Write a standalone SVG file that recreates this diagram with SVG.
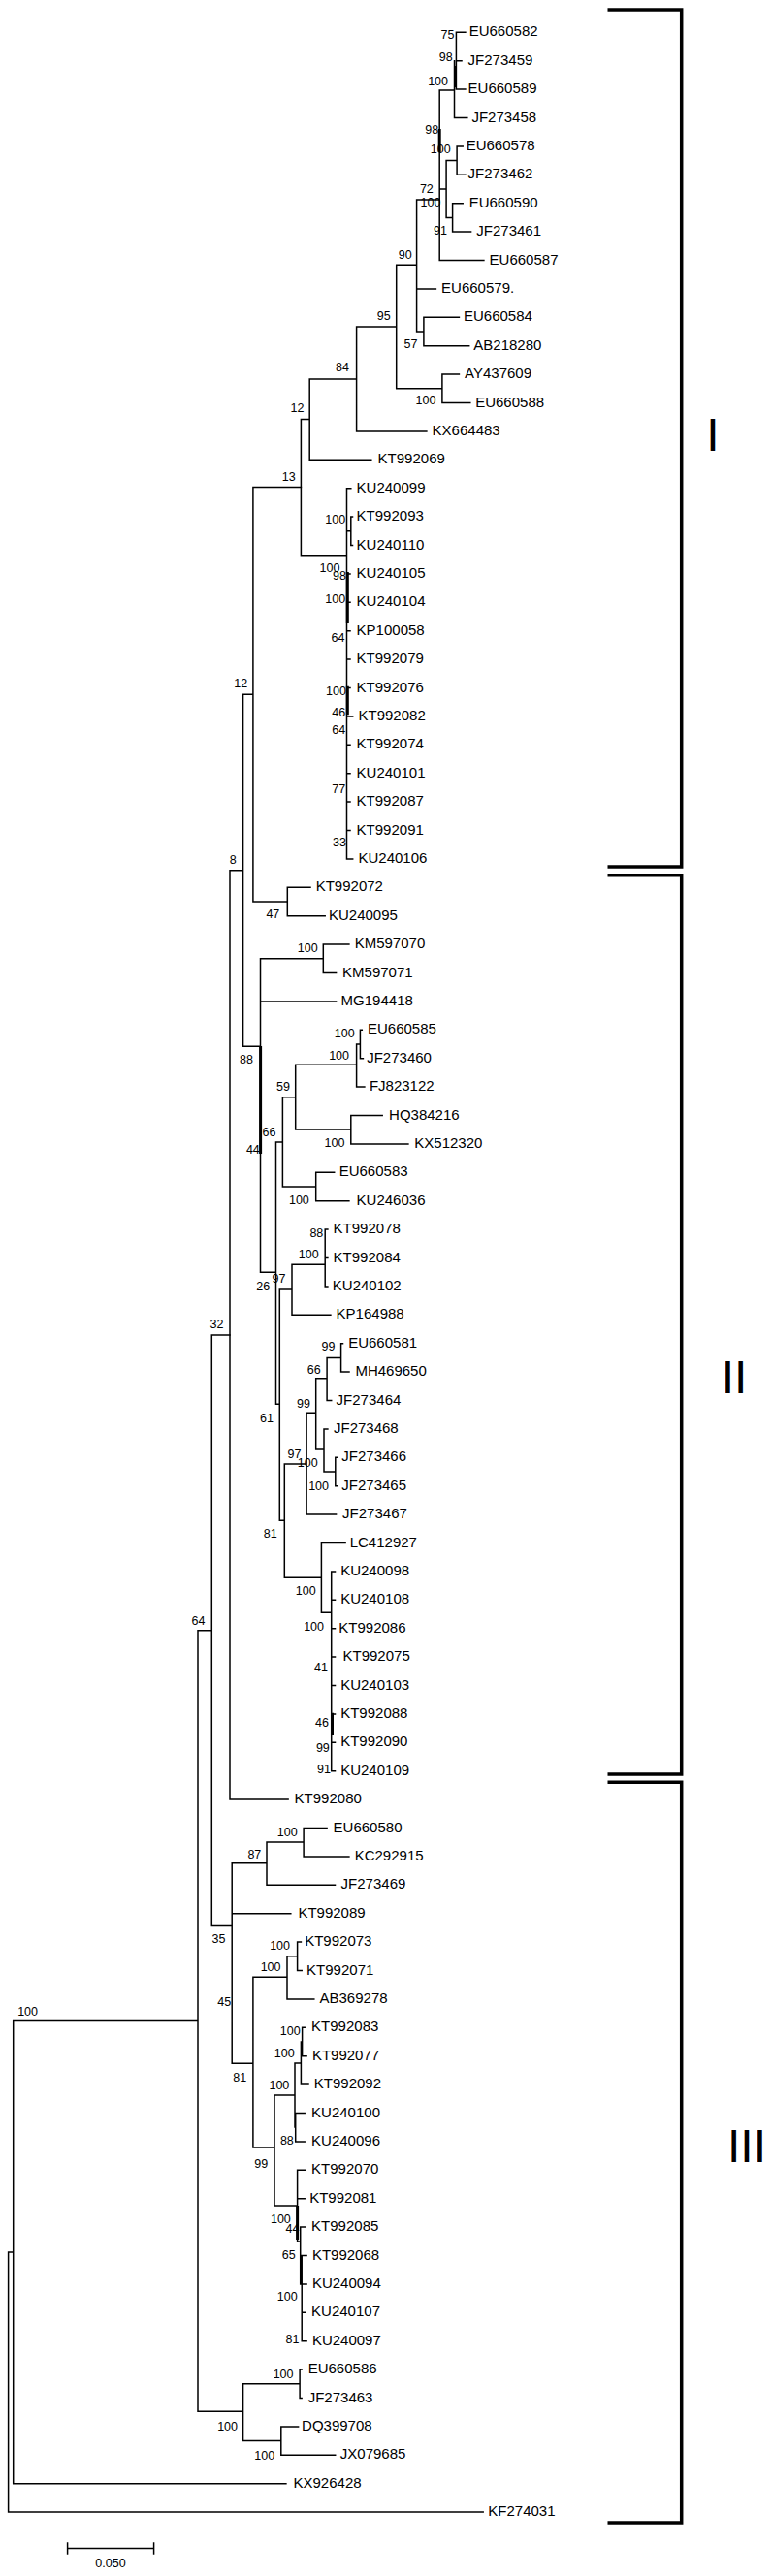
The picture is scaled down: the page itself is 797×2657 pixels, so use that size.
<svg xmlns="http://www.w3.org/2000/svg" width="797" height="2657" viewBox="0 0 797 2657">
<style>
.t{font-family:"Liberation Sans",Arial,sans-serif;font-size:15px;fill:#000}
.b{font-family:"Liberation Sans",Arial,sans-serif;font-size:12.5px;fill:#000;text-anchor:end}
.r{font-family:"Liberation Sans",Arial,sans-serif;font-size:48px;fill:#000;text-anchor:middle}
.l{fill:none;stroke:#000;stroke-width:1.5;stroke-linecap:square}
.k{fill:none;stroke:#000;stroke-width:3}
.br{fill:none;stroke:#000;stroke-width:3.5}
</style>
<rect width="797" height="2657" fill="#fff"/>
<g id="connectors">
<path class="l" d="M470.4,33.3V92.1M470.4,33.3H479.9M470.4,62.7H476M470.4,92.1H479.9M468.5,62.7V121.5M468.5,121.5H481.8M453.2,93H468.5M460.1,165.6V224.4M453.2,195H460.1M471.1,150.9V180.3M460.1,165.6H471.1M471.1,150.9H477.2M471.1,180.3H479.9M466.6,209.7V239.1M460.1,224.4H466.6M466.6,209.7H477.2M466.6,239.1H485.6M453.2,93V268.5M453.2,268.5H498.9M429.6,206H453.2M429.6,206V342M429.6,297.9H449.4M429.6,342H436.9M436.9,327.3V356.7M436.9,327.3H473.4M436.9,356.7H483.7M408.7,273.3H429.6M408.7,273.3V400.8M408.7,400.8H455.9M455.9,386.1V415.5M455.9,386.1H473.4M455.9,415.5H484.8M367.6,337H408.7M367.6,337V444.9M367.6,444.9H439.9M319.2,391H367.6M319.2,391V474.3M319.2,474.3H382.8M310.4,432.6H319.2M310.4,432.6V572.7M310.4,572.7H357.5M357.5,503.7V885.9M357.5,503.7H361.8M357.5,547.8H361.8M361.8,533.1V562.5M361.8,533.1H363.5M361.8,562.5H363.5M357.5,591.9H361M357.5,621.3H361M357.5,650.7H361M357.5,680.1H361M357.5,709.5H361M357.5,738.9H363.7M357.5,768.3H361M357.5,797.7H361M357.5,827.1H361M357.5,856.5H361M357.5,885.9H363.7"/>
<path class="l" d="M260.9,502.6H310.4M260.9,502.6V930M260.9,930H296.3M296.3,915.3V944.7M296.3,915.3H320M296.3,944.7H335.2M250.6,716.3H260.9M250.6,716.3V1079.3M237,897.8H250.6M237,897.8V1856.1M237,1856.1H297.1M250.6,1079.3H268.5M268.5,988.8V1312.3M268.5,988.8H333.3M333.3,974.1V1003.5M333.3,974.1H359.9M333.3,1003.5H346.6M268.5,1032.9H346.6M268.5,1312.3H284.5M284.5,1177.9V1448.3M284.5,1177.9H291.4M291.4,1131.7V1224M291.4,1131.7H304.7M304.7,1098.3V1165M304.7,1098.3H367.6M367.6,1077V1121.1M367.6,1121.1H375.9M367.6,1077H371.4M371.4,1062.3V1091.7M371.4,1062.3H373.3M371.4,1091.7H374.4M304.7,1165H361.8M361.8,1150.5V1179.9M361.8,1150.5H394.2M361.8,1179.9H420.9M291.4,1224H325.7M325.7,1209.3V1238.7M325.7,1209.3H344.7M325.7,1238.7H359.9M284.5,1448.3H288.3M288.3,1330V1568.3M288.3,1330H301M301,1304.3V1356.3M301,1304.3H335.2M335.2,1268.1V1326.9M335.2,1268.1H337.9M335.2,1297.5H337.9M335.2,1326.9H337.9M301,1356.3H340.9M288.3,1568.3H293.3M293.3,1510V1627.3M293.3,1510H316.1M316.1,1457.3V1562.1M316.1,1562.1H346.6M316.1,1457.3H325.7M325.7,1421.7V1495M325.7,1421.7H337.1M337.1,1400.4V1444.5M337.1,1444.5H341.7M337.1,1400.4H351.6M351.6,1385.7V1415.1M351.6,1385.7H353.5M351.6,1415.1H360M325.7,1495H334M334,1473.9V1518M334,1473.9H337.9M334,1518H345.8M345.8,1503.3V1532.7M345.8,1503.3H347.8M345.8,1532.7H347.8M293.3,1627.3H331.4M331.4,1591.5V1663.3M331.4,1591.5H356.1M331.4,1663.3H341.7M341.7,1620.9V1826.7M341.7,1620.9H345.5M341.7,1650.3H345.5M341.7,1679.7H345.5M341.7,1709.1H345.5M341.7,1738.5H345.5M341.7,1767.9H345.5M341.7,1797.3H345.5M341.7,1826.7H345.5"/>
<path class="l" d="M204,1681.7H218.3M218.3,1377H237M218.3,1377V1986.4M218.3,1986.4H239.2M239.2,1921.7V2128.3M239.2,1921.7H275M275,1900V1944.3M275,1944.3H345.5M275,1900H313.1M313.1,1885.5V1914.9M313.1,1885.5H337.1M313.1,1914.9H359.9M239.2,1973.7H299.8M239.2,2128.3H260.9M260.9,2039.3V2215M260.9,2039.3H296M296,2017.8V2061.9M296,2061.9H323.8M296,2017.8H306.6M306.6,2003.1V2032.5M306.6,2003.1H310.4M306.6,2032.5H311.2M260.9,2215H283M283,2161V2275M283,2161H304M304,2128V2194M304,2128H310.4M310.4,2106V2150.1M310.4,2150.1H318M310.4,2106H311.6M311.6,2091.3V2120.7M311.6,2091.3H314.2M311.6,2120.7H316.1M304,2194H304.7M304.7,2179.5V2208.9M304.7,2179.5H314.2M304.7,2208.9H314.2M283,2275H306.6M306.6,2238.3V2312M306.6,2238.3H315M306.6,2267.7H314.2M306.6,2312H309.7M309.7,2297.1V2355.9M309.7,2297.1H315M309.7,2355.9H316.1M311.2,2326.5V2414.7M309.7,2326.5H316.1M311.2,2385.3H315M311.2,2414.7H316.1M204,1681.7V2487.2M204,2487.2H250.6M250.6,2458.8V2517.6M250.6,2458.8H309.1M309.1,2444.1V2473.5M309.1,2444.1H311.1M309.1,2473.5H311.1M250.6,2517.6H289.8M289.8,2502.9V2532.3M289.8,2502.9H307.6M289.8,2532.3H345.7M13.7,2084.5H204M13.7,2084.5V2561.7M13.7,2561.7H294.9M8.6,2323H13.7M8.6,2323V2591.1M8.6,2591.1H498.2"/>
<path class="k" d="M469.5,68V90M453.2,133V157M358.3,590V643M358.3,707.7V737.3M342.5,1766.7V1790M306.6,2275V2310M268.6,1079V1190"/>
</g>
<g id="bootstrap">
<text class="b" x="468.5" y="40">75</text>
<text class="b" x="466.6" y="63.3">98</text>
<text class="b" x="462" y="88.3">100</text>
<text class="b" x="452.1" y="137.7">98</text>
<text class="b" x="464.7" y="157.7">100</text>
<text class="b" x="446.8" y="199.3">72</text>
<text class="b" x="454.4" y="213.3">100</text>
<text class="b" x="460.9" y="241.7">91</text>
<text class="b" x="424.7" y="266.7">90</text>
<text class="b" x="430.4" y="359.3">57</text>
<text class="b" x="402.6" y="330">95</text>
<text class="b" x="449.4" y="417.3">100</text>
<text class="b" x="360" y="383.3">84</text>
<text class="b" x="313.5" y="425">12</text>
<text class="b" x="304.7" y="496">13</text>
<text class="b" x="356.1" y="540">100</text>
<text class="b" x="350.4" y="590">100</text>
<text class="b" x="356.9" y="598.3">98</text>
<text class="b" x="356.1" y="621.7">100</text>
<text class="b" x="355.4" y="661.7">64</text>
<text class="b" x="356.9" y="716.7">100</text>
<text class="b" x="356.1" y="739.3">46</text>
<text class="b" x="356.1" y="756.7">64</text>
<text class="b" x="356.1" y="818.3">77</text>
<text class="b" x="356.9" y="872.7">33</text>
<text class="b" x="255.2" y="709.3">12</text>
<text class="b" x="288.3" y="946.7">47</text>
<text class="b" x="243.8" y="890.7">8</text>
<text class="b" x="327.6" y="981.7">100</text>
<text class="b" x="260.9" y="1097.3">88</text>
<text class="b" x="365.7" y="1070">100</text>
<text class="b" x="360" y="1092.7">100</text>
<text class="b" x="299" y="1125">59</text>
<text class="b" x="355.4" y="1182.7">100</text>
<text class="b" x="284.5" y="1171.7">66</text>
<text class="b" x="267.8" y="1190">44</text>
<text class="b" x="318.8" y="1241.7">100</text>
<text class="b" x="333.3" y="1276">88</text>
<text class="b" x="328.7" y="1298.3">100</text>
<text class="b" x="294.4" y="1322.7">97</text>
<text class="b" x="278.1" y="1330.7">26</text>
<text class="b" x="230.5" y="1370">32</text>
<text class="b" x="345.5" y="1393.3">99</text>
<text class="b" x="330.6" y="1416.7">66</text>
<text class="b" x="320" y="1451.7">99</text>
<text class="b" x="281.9" y="1467.3">61</text>
<text class="b" x="310.4" y="1504.3">97</text>
<text class="b" x="327.6" y="1513.3">100</text>
<text class="b" x="339" y="1536.7">100</text>
<text class="b" x="285.7" y="1586">81</text>
<text class="b" x="325.7" y="1645">100</text>
<text class="b" x="211.4" y="1676">64</text>
<text class="b" x="334" y="1681.7">100</text>
<text class="b" x="337.9" y="1724">41</text>
<text class="b" x="339" y="1780.7">46</text>
<text class="b" x="339.8" y="1807.3">99</text>
<text class="b" x="340.9" y="1829.3">91</text>
<text class="b" x="306.6" y="1894">100</text>
<text class="b" x="269.3" y="1916.7">87</text>
<text class="b" x="232.4" y="2004">35</text>
<text class="b" x="299" y="2010.7">100</text>
<text class="b" x="289.5" y="2033.3">100</text>
<text class="b" x="238.1" y="2069.3">45</text>
<text class="b" x="309.7" y="2099.3">100</text>
<text class="b" x="303.6" y="2121.7">100</text>
<text class="b" x="254.1" y="2147.3">81</text>
<text class="b" x="298.3" y="2155">100</text>
<text class="b" x="302.8" y="2211.7">88</text>
<text class="b" x="276.2" y="2236">99</text>
<text class="b" x="299.8" y="2292.7">100</text>
<text class="b" x="308.5" y="2303.3">44</text>
<text class="b" x="304.7" y="2330">65</text>
<text class="b" x="306.6" y="2373.3">100</text>
<text class="b" x="308.5" y="2417.3">81</text>
<text class="b" x="302.5" y="2452.8">100</text>
<text class="b" x="245" y="2507">100</text>
<text class="b" x="283.2" y="2536.9">100</text>
<text class="b" x="39" y="2079">100</text>
</g>
<g id="leaf-EU660582"><text class="t" x="483.7" y="37.3">EU660582</text></g>
<g id="leaf-JF273459"><text class="t" x="482.6" y="66.7">JF273459</text></g>
<g id="leaf-EU660589"><text class="t" x="482.6" y="96.1">EU660589</text></g>
<g id="leaf-JF273458"><text class="t" x="486.4" y="125.5">JF273458</text></g>
<g id="leaf-EU660578"><text class="t" x="480.7" y="154.9">EU660578</text></g>
<g id="leaf-JF273462"><text class="t" x="482.6" y="184.3">JF273462</text></g>
<g id="leaf-EU660590"><text class="t" x="483.7" y="213.7">EU660590</text></g>
<g id="leaf-JF273461"><text class="t" x="491.3" y="243.1">JF273461</text></g>
<g id="leaf-EU660587"><text class="t" x="504.6" y="272.5">EU660587</text></g>
<g id="leaf-EU660579"><text class="t" x="455.1" y="301.9">EU660579.</text></g>
<g id="leaf-EU660584"><text class="t" x="478" y="331.3">EU660584</text></g>
<g id="leaf-AB218280"><text class="t" x="488.3" y="360.7">AB218280</text></g>
<g id="leaf-AY437609"><text class="t" x="479.1" y="390.1">AY437609</text></g>
<g id="leaf-EU660588"><text class="t" x="490.2" y="419.5">EU660588</text></g>
<g id="leaf-KX664483"><text class="t" x="445.6" y="448.9">KX664483</text></g>
<g id="leaf-KT992069"><text class="t" x="389.6" y="478.3">KT992069</text></g>
<g id="leaf-KU240099"><text class="t" x="367.6" y="507.7">KU240099</text></g>
<g id="leaf-KT992093"><text class="t" x="367.6" y="537.1">KT992093</text></g>
<g id="leaf-KU240110"><text class="t" x="367.6" y="566.5">KU240110</text></g>
<g id="leaf-KU240105"><text class="t" x="367.6" y="595.9">KU240105</text></g>
<g id="leaf-KU240104"><text class="t" x="367.6" y="625.3">KU240104</text></g>
<g id="leaf-KP100058"><text class="t" x="367.6" y="654.7">KP100058</text></g>
<g id="leaf-KT992079"><text class="t" x="367.6" y="684.1">KT992079</text></g>
<g id="leaf-KT992076"><text class="t" x="367.6" y="713.5">KT992076</text></g>
<g id="leaf-KT992082"><text class="t" x="369.5" y="742.9">KT992082</text></g>
<g id="leaf-KT992074"><text class="t" x="367.6" y="772.3">KT992074</text></g>
<g id="leaf-KU240101"><text class="t" x="367.6" y="801.7">KU240101</text></g>
<g id="leaf-KT992087"><text class="t" x="367.6" y="831.1">KT992087</text></g>
<g id="leaf-KT992091"><text class="t" x="367.6" y="860.5">KT992091</text></g>
<g id="leaf-KU240106"><text class="t" x="369.5" y="889.9">KU240106</text></g>
<g id="leaf-KT992072"><text class="t" x="325.7" y="919.3">KT992072</text></g>
<g id="leaf-KU240095"><text class="t" x="339" y="948.7">KU240095</text></g>
<g id="leaf-KM597070"><text class="t" x="365.7" y="978.1">KM597070</text></g>
<g id="leaf-KM597071"><text class="t" x="353.1" y="1007.5">KM597071</text></g>
<g id="leaf-MG194418"><text class="t" x="351.6" y="1036.9">MG194418</text></g>
<g id="leaf-EU660585"><text class="t" x="379" y="1066.3">EU660585</text></g>
<g id="leaf-JF273460"><text class="t" x="378.2" y="1095.7">JF273460</text></g>
<g id="leaf-FJ823122"><text class="t" x="380.9" y="1125.1">FJ823122</text></g>
<g id="leaf-HQ384216"><text class="t" x="401.1" y="1154.5">HQ384216</text></g>
<g id="leaf-KX512320"><text class="t" x="427.3" y="1183.9">KX512320</text></g>
<g id="leaf-EU660583"><text class="t" x="349.7" y="1213.3">EU660583</text></g>
<g id="leaf-KU246036"><text class="t" x="367.6" y="1242.7">KU246036</text></g>
<g id="leaf-KT992078"><text class="t" x="343.6" y="1272.1">KT992078</text></g>
<g id="leaf-KT992084"><text class="t" x="343.6" y="1301.5">KT992084</text></g>
<g id="leaf-KU240102"><text class="t" x="342.8" y="1330.9">KU240102</text></g>
<g id="leaf-KP164988"><text class="t" x="346.6" y="1360.3">KP164988</text></g>
<g id="leaf-EU660581"><text class="t" x="359.2" y="1389.7">EU660581</text></g>
<g id="leaf-MH469650"><text class="t" x="366.4" y="1419.1">MH469650</text></g>
<g id="leaf-JF273464"><text class="t" x="346.6" y="1448.5">JF273464</text></g>
<g id="leaf-JF273468"><text class="t" x="344" y="1477.9">JF273468</text></g>
<g id="leaf-JF273466"><text class="t" x="352.3" y="1507.3">JF273466</text></g>
<g id="leaf-JF273465"><text class="t" x="352.3" y="1536.7">JF273465</text></g>
<g id="leaf-JF273467"><text class="t" x="353.1" y="1566.1">JF273467</text></g>
<g id="leaf-LC412927"><text class="t" x="360.7" y="1595.5">LC412927</text></g>
<g id="leaf-KU240098"><text class="t" x="351.2" y="1624.9">KU240098</text></g>
<g id="leaf-KU240108"><text class="t" x="351.2" y="1654.3">KU240108</text></g>
<g id="leaf-KT992086"><text class="t" x="349.3" y="1683.7">KT992086</text></g>
<g id="leaf-KT992075"><text class="t" x="353.5" y="1713.1">KT992075</text></g>
<g id="leaf-KU240103"><text class="t" x="351.2" y="1742.5">KU240103</text></g>
<g id="leaf-KT992088"><text class="t" x="351.2" y="1771.9">KT992088</text></g>
<g id="leaf-KT992090"><text class="t" x="351.2" y="1801.3">KT992090</text></g>
<g id="leaf-KU240109"><text class="t" x="351.2" y="1830.7">KU240109</text></g>
<g id="leaf-KT992080"><text class="t" x="303.6" y="1860.1">KT992080</text></g>
<g id="leaf-EU660580"><text class="t" x="343.6" y="1889.5">EU660580</text></g>
<g id="leaf-KC292915"><text class="t" x="365.7" y="1918.9">KC292915</text></g>
<g id="leaf-JF273469"><text class="t" x="351.6" y="1948.3">JF273469</text></g>
<g id="leaf-KT992089"><text class="t" x="307.4" y="1977.7">KT992089</text></g>
<g id="leaf-KT992073"><text class="t" x="314.2" y="2007.1">KT992073</text></g>
<g id="leaf-KT992071"><text class="t" x="316.1" y="2036.5">KT992071</text></g>
<g id="leaf-AB369278"><text class="t" x="329.5" y="2065.9">AB369278</text></g>
<g id="leaf-KT992083"><text class="t" x="321.1" y="2095.3">KT992083</text></g>
<g id="leaf-KT992077"><text class="t" x="321.9" y="2124.7">KT992077</text></g>
<g id="leaf-KT992092"><text class="t" x="323.8" y="2154.1">KT992092</text></g>
<g id="leaf-KU240100"><text class="t" x="321.1" y="2183.5">KU240100</text></g>
<g id="leaf-KU240096"><text class="t" x="321.1" y="2212.9">KU240096</text></g>
<g id="leaf-KT992070"><text class="t" x="321.1" y="2242.3">KT992070</text></g>
<g id="leaf-KT992081"><text class="t" x="319.2" y="2271.7">KT992081</text></g>
<g id="leaf-KT992085"><text class="t" x="321.1" y="2301.1">KT992085</text></g>
<g id="leaf-KT992068"><text class="t" x="321.9" y="2330.5">KT992068</text></g>
<g id="leaf-KU240094"><text class="t" x="321.9" y="2359.9">KU240094</text></g>
<g id="leaf-KU240107"><text class="t" x="321.1" y="2389.3">KU240107</text></g>
<g id="leaf-KU240097"><text class="t" x="321.9" y="2418.7">KU240097</text></g>
<g id="leaf-EU660586"><text class="t" x="317.7" y="2448.1">EU660586</text></g>
<g id="leaf-JF273463"><text class="t" x="317.7" y="2477.5">JF273463</text></g>
<g id="leaf-DQ399708"><text class="t" x="311.1" y="2506.9">DQ399708</text></g>
<g id="leaf-JX079685"><text class="t" x="350.8" y="2536.3">JX079685</text></g>
<g id="leaf-KX926428"><text class="t" x="302.5" y="2565.7">KX926428</text></g>
<g id="leaf-KF274031"><text class="t" x="503.3" y="2595.1">KF274031</text></g>
<g id="clade-I"><path class="br" d="M626.5,10H702.7V894H626.5"/><text class="r" x="735" y="465">I</text></g>
<g id="clade-II"><path class="br" d="M626.5,902.7H702.7V1830H626.5"/><text class="r" x="757" y="1436.7">II</text></g>
<g id="clade-III"><path class="br" d="M626.5,1838.3H702.7V2602H626.5"/><text class="r" x="770" y="2230">III</text></g>
<g id="scale-bar"><path class="l" d="M69.6,2628.4H158.6M69.6,2623V2634M158.6,2623V2634"/><text class="t" x="114" y="2648" style="font-size:12.5px;text-anchor:middle">0.050</text></g>
</svg>
